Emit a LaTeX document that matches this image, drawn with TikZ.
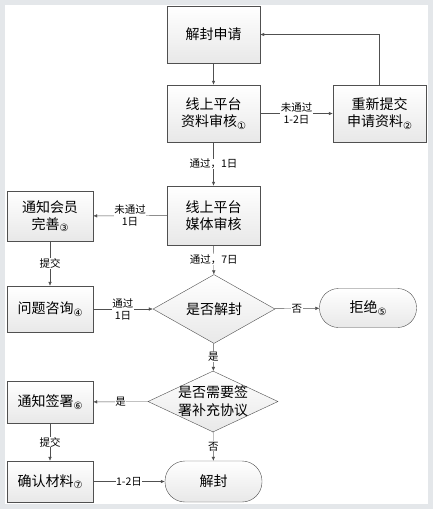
\documentclass[tikz,border=0pt]{standalone}
\usepackage{fontspec}
\setmainfont{Noto Sans CJK SC}
\newfontfamily\numfont{DejaVu Sans}
\usetikzlibrary{arrows.meta,shapes.geometric}
\definecolor{framegray}{HTML}{E4E7EA}
\definecolor{linegray}{HTML}{505050}
\newcommand{\cnum}[1]{\raisebox{-2.5pt}{\numfont\fontsize{10}{10}\selectfont #1}}
\begin{document}
\begin{tikzpicture}[x=1pt,y=-1pt,
    box/.style={draw=linegray, top color=white, bottom color=black!9,
        minimum width=93pt, minimum height=57pt, align=center, inner sep=1pt,
        font=\fontsize{14}{17}\selectfont},
    endbox/.style={box, rounded corners=19pt, minimum width=97pt, minimum height=39pt},
    ask/.style={diamond, draw=linegray, top color=white, bottom color=black!9,
        inner sep=0pt, font=\fontsize{14}{17}\selectfont},
    link/.style={draw=linegray, -{Latex[length=4pt,width=3.5pt]}},
    tag/.style={fill=white, inner sep=0.5pt, align=center,
        font=\fontsize{10.5}{12}\selectfont}]
        \fill[framegray] (0,0) rectangle (433,509);
        \fill[white] (5,5) rectangle (428,504);
        \useasboundingbox (0,0) rectangle (433,509);

        \node[box] (apply) at (213.5,34.5) {解封申请};
        \node[box] (check1) at (213.5,113.5) {线上平台\\资料审核\cnum{①}};
        \node[box] (resend) at (379.5,113.5) {重新提交\\申请资料\cnum{②}};
        \node[box, minimum height=59pt] (check2) at (213.5,215.5) {线上平台\\媒体审核};
        \node[box, minimum width=86pt, minimum height=50pt] (notify) at (50,216) {通知会员\\完善\cnum{③}};
        \node[box, minimum width=86pt, minimum height=46pt] (consult) at (50,309) {问题咨询\cnum{④}};
        \node[ask, minimum width=122pt, minimum height=56pt] (unlock) at (214,309) {是否解封};
        \node[endbox] (refuse) at (368,308) {拒绝\cnum{⑤}};
        \node[ask, minimum width=130pt, minimum height=61pt,
            label={[font=\fontsize{14}{18}\selectfont, align=center]center:是否需要签\\署补充协议}] (extra) at (213,401.5) {};
        \node[box, minimum width=86pt, minimum height=42pt] (sign) at (50,402) {通知签署\cnum{⑥}};
        \node[box, minimum width=86pt, minimum height=41pt] (confirm) at (50,481.5) {确认材料\cnum{⑦}};
        \node[endbox, minimum height=41pt, rounded corners=20pt] (done) at (213.5,481.5) {解封};

        \draw[link] (apply) -- (check1);
        \draw[link] (check1) -- node[tag] {未通过\\1-2日} (resend);
        \draw[link] (resend.north) |- (apply.east);
        \draw[link] (check1) -- node[tag] {通过，1日} (check2);
        \draw[link] (check2) -- node[tag] {未通过\\1日} (notify);
        \draw[link] (notify) -- node[tag] {提交} (consult);
        \draw[link] (check2) -- node[tag] {通过，7日} (unlock);
        \draw[link] (consult) -- node[tag] {通过\\1日} (unlock);
        \draw[link] (unlock) -- node[tag] {否} (refuse);
        \draw[link] (unlock) -- node[tag] {是} (extra);
        \draw[link] (extra) -- node[tag] {是} (sign);
        \draw[link] (sign) -- node[tag] {提交} (confirm);
        \draw[link] (extra) -- node[tag] {否} (done);
        \draw[link] (confirm) -- node[tag] {1-2日} (done);
    \end{tikzpicture}
\end{document}
